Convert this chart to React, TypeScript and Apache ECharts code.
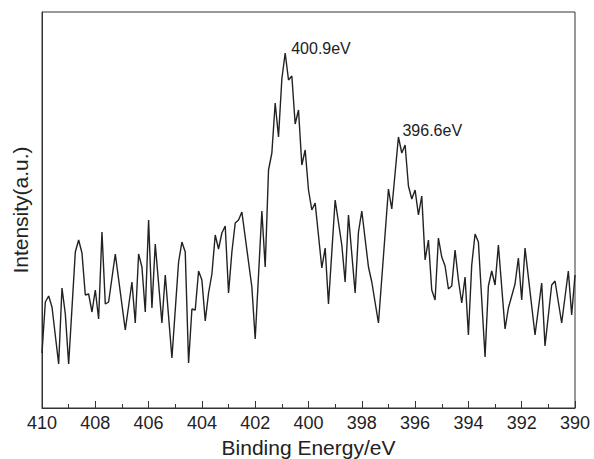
import React, { useEffect, useRef } from "react";
import * as echarts from "echarts";

const bindingEnergy = [
  410.0, 409.875, 409.75, 409.625, 409.375, 409.25, 409.125, 409.0, 408.75, 408.625,
  408.5, 408.375, 408.25, 408.125, 408.0, 407.875, 407.75, 407.625, 407.5, 407.25,
  406.875, 406.625, 406.5, 406.375, 406.25, 406.125, 406.0, 405.875, 405.75, 405.5,
  405.375, 405.125, 404.875, 404.75, 404.625, 404.5, 404.375, 404.25, 404.125, 404.0,
  403.875, 403.75, 403.625, 403.5, 403.375, 403.25, 403.125, 403.0, 402.875, 402.75,
  402.625, 402.5, 402.125, 402.0, 401.75, 401.625, 401.5, 401.375, 401.25, 401.125,
  401.0, 400.875, 400.75, 400.625, 400.5, 400.375, 400.25, 400.125, 400.0, 399.875,
  399.75, 399.5, 399.375, 399.25, 399.0, 398.75, 398.625, 398.5, 398.25, 398.125,
  398.0, 397.75, 397.625, 397.375, 397.0, 396.875, 396.75, 396.625, 396.5, 396.375,
  396.25, 396.125, 396.0, 395.875, 395.75, 395.625, 395.5, 395.375, 395.25, 395.125,
  395.0, 394.875, 394.75, 394.625, 394.5, 394.375, 394.25, 394.125, 394.0, 393.875,
  393.75, 393.625, 393.375, 393.25, 393.125, 393.0, 392.875, 392.625, 392.5, 392.25,
  392.125, 392.0, 391.875, 391.5, 391.25, 391.125, 390.875, 390.75, 390.5, 390.25,
  390.125, 390.0,
];

const intensity = [
  55, 106, 112, 101, 44, 120, 94, 44, 156, 168,
  155, 113, 114, 96, 118, 89, 176, 104, 106, 154,
  78, 126, 85, 154, 141, 96, 188, 100, 164, 85,
  133, 50, 146, 166, 156, 45, 99, 98, 137, 128,
  87, 115, 134, 173, 159, 175, 182, 115, 156, 185,
  188, 196, 121, 69, 197, 141, 238, 255, 305, 271,
  329, 355, 328, 332, 284, 298, 243, 258, 218, 198,
  205, 140, 160, 104, 208, 163, 126, 193, 115, 176,
  197, 141, 126, 85, 219, 199, 235, 271, 255, 263,
  222, 209, 218, 193, 212, 148, 168, 118, 108, 170,
  151, 142, 119, 122, 158, 128, 105, 131, 73, 143,
  174, 166, 51, 122, 137, 123, 163, 79, 100, 124,
  150, 108, 160, 73, 125, 62, 123, 127, 85, 137,
  93, 133,
];

const xTicks = { min: 390, max: 410, interval: 2 };
const peakLabels = ["400.9eV", "396.6eV"];
const peakEnergies = [400.875, 396.625];
const peakValues = [355, 271];

const FONT = "'Liberation Sans', Arial, Helvetica, sans-serif";
const INK = "#222";

export default function App() {
  const ref = useRef<HTMLDivElement>(null);

  useEffect(() => {
    document.body.style.margin = "0";
    if (!ref.current) return;
    const chart = echarts.init(ref.current, null, { renderer: "svg" });
    const data = bindingEnergy.map((e, i) => [e, intensity[i]]);
    const offsets = [
      [1, -5],
      [-1, -7],
    ];
    chart.setOption({
      animation: false,
      backgroundColor: "#ffffff",
      textStyle: { fontFamily: FONT, color: INK },
      grid: {
        left: 42,
        top: 12,
        right: 19,
        bottom: 51,
        containLabel: false,
        outerBoundsMode: "none",
        show: true,
        borderColor: "#333",
        borderWidth: 1,
        backgroundColor: "transparent",
      },
      xAxis: {
        type: "value",
        min: xTicks.min,
        max: xTicks.max,
        interval: xTicks.interval,
        inverse: true,
        name: "Binding Energy/eV",
        nameLocation: "middle",
        nameGap: 28,
        nameTextStyle: { fontSize: 21, color: INK, fontFamily: FONT },
        axisLine: { show: true, lineStyle: { color: "#333", width: 1 } },
        axisTick: { show: true, inside: true, length: 7, lineStyle: { color: "#333" } },
        minorTick: { show: true, splitNumber: 2, length: 4, lineStyle: { color: "#333" } },
        axisLabel: { fontSize: 18, color: INK, margin: 6, fontFamily: FONT },
        splitLine: { show: false },
      },
      yAxis: {
        type: "value",
        min: 0,
        max: 396,
        name: "Intensity(a.u.)",
        nameLocation: "middle",
        nameGap: 11,
        nameTextStyle: { fontSize: 21, color: INK, fontFamily: FONT },
        axisLine: { show: true, lineStyle: { color: "#333", width: 1 } },
        axisTick: { show: false },
        axisLabel: { show: false },
        splitLine: { show: false },
      },
      series: [
        {
          type: "line",
          data,
          showSymbol: false,
          symbol: "none",
          lineStyle: { color: INK, width: 1.4 },
          markPoint: {
            symbol: "circle",
            symbolSize: 0,
            silent: true,
            data: peakLabels.map((t, i) => ({
              coord: [peakEnergies[i], peakValues[i]],
              label: {
                show: true,
                formatter: t,
                position: "right",
                distance: 5,
                offset: offsets[i],
                fontSize: 16,
                color: INK,
                fontFamily: FONT,
              },
            })),
          },
        },
      ],
    });
    return () => chart.dispose();
  }, []);

  return <div ref={ref} style={{ width: 594, height: 459 }} />;
}
